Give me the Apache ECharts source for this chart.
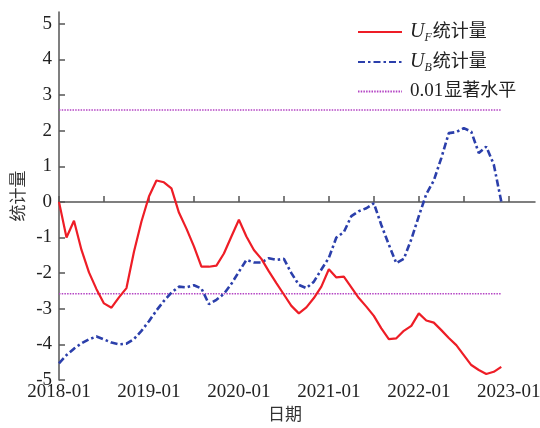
<!DOCTYPE html>
<html>
<head>
<meta charset="utf-8">
<script src="https://cdn.jsdelivr.net/npm/echarts@6/dist/echarts.min.js"></script>
<style>
  html, body { margin: 0; padding: 0; background: #fff; }
  #chart { width: 540px; height: 428px; }
</style>
</head>
<body>
<div id="chart"></div>
<script>
// Mann-Kendall sequential statistics, monthly from 2018-01 to 2022-12
const xTickLabels = ['2018-01', '2019-01', '2020-01', '2021-01', '2022-01', '2023-01'];
const yTickValues = [-5, -4, -3, -2, -1, 0, 1, 2, 3, 4, 5];

const ufValues = [
  0, -1.0, -0.53, -1.35, -1.98, -2.45, -2.85, -2.97, -2.68, -2.42, -1.4, -0.55,
  0.15, 0.6, 0.55, 0.38, -0.3, -0.75, -1.25, -1.82, -1.82, -1.79, -1.45, -0.97,
  -0.5, -0.97, -1.35, -1.6, -1.95, -2.28, -2.6, -2.92, -3.13, -2.96, -2.7, -2.38,
  -1.89, -2.12, -2.1, -2.4, -2.7, -2.94, -3.2, -3.55, -3.85, -3.83, -3.62, -3.48,
  -3.13, -3.33, -3.39, -3.6, -3.82, -4.02, -4.3, -4.58, -4.72, -4.83, -4.77, -4.63
];
const ubValues = [
  -4.53, -4.3, -4.12, -3.97, -3.86, -3.78, -3.86, -3.95, -4.0, -3.98, -3.85, -3.62,
  -3.35, -3.05, -2.78, -2.55, -2.38, -2.4, -2.34, -2.43, -2.87, -2.75, -2.58, -2.3,
  -1.96, -1.63, -1.7, -1.7, -1.58, -1.63, -1.6, -2.0, -2.33, -2.42, -2.24, -1.9,
  -1.57, -1.0, -0.85, -0.4, -0.26, -0.18, -0.04, -0.65, -1.2, -1.72, -1.6, -1.05,
  -0.4, 0.22, 0.6, 1.23, 1.93, 1.96, 2.07, 1.97, 1.37, 1.55, 1.05, 0.01
];
const criticalValue = 2.58;

const serif = '"Liberation Serif", "Times New Roman", "Noto Sans CJK SC", serif';
const toPoints = arr => arr.map((v, i) => [i, v]);
const lastMonth = ufValues.length - 1;

const xTicks = [];
for (let m = 0; m <= 60; m += 6) xTicks.push(m);
const xLabels = xTickLabels.map((_, i) => i * 12);

const chart = echarts.init(document.getElementById('chart'), null, { renderer: 'canvas' });

const legendRich = {
  u: { fontFamily: serif, fontStyle: 'italic', fontSize: 20, color: '#222', verticalAlign: 'middle', lineHeight: 24 },
  s: { fontFamily: serif, fontStyle: 'italic', fontSize: 12, color: '#222', verticalAlign: 'bottom', lineHeight: 24 },
  t: { fontFamily: serif, fontSize: 18, color: '#222', verticalAlign: 'middle', lineHeight: 24, padding: [0, 0, 0, 1] },
  n: { fontFamily: serif, fontSize: 19, color: '#222', verticalAlign: 'middle', lineHeight: 24 }
};

chart.setOption({
  animation: false,
  backgroundColor: '#fff',
  grid: { left: 59, right: 5, top: 12, bottom: 48, containLabel: false, outerBoundsMode: 'none' },
  legend: {
    orient: 'vertical',
    left: 352,
    top: 17,
    itemWidth: 44,
    itemHeight: 14,
    itemGap: 8,
    itemStyle: { opacity: 0 },
    textStyle: { rich: legendRich, padding: [0, 0, 0, 3] },
    formatter: function (name) {
      if (name === 'UF统计量') return '{u|U}{s|F}{t|统计量}';
      if (name === 'UB统计量') return '{u|U}{s|B}{t|统计量}';
      return '{n|0.01}{t|显著水平}';
    },
    data: ['UF统计量', 'UB统计量', '0.01显著水平']
  },
  xAxis: {
    type: 'value',
    min: 0,
    max: 63.5,
    name: '日期',
    nameLocation: 'middle',
    nameGap: 27,
    nameMoveOverlap: false,
    nameTextStyle: { fontFamily: serif, fontSize: 17, color: '#333', padding: [0, 24, 0, 0] },
    axisLine: { show: true, lineStyle: { color: '#555', width: 1.5 } },
    axisTick: { show: true, inside: true, length: 6, customValues: xTicks, lineStyle: { color: '#555', width: 1.5 } },
    axisLabel: {
      customValues: xLabels,
      margin: 3,
      fontFamily: serif,
      fontSize: 19,
      color: '#222',
      formatter: v => xTickLabels[Math.round(v / 12)] || ''
    },
    splitLine: { show: false }
  },
  yAxis: {
    type: 'value',
    min: -5,
    max: 5.33,
    name: '统计量',
    nameLocation: 'middle',
    nameGap: 31,
    nameMoveOverlap: false,
    nameTextStyle: { fontFamily: serif, fontSize: 17, color: '#333' },
    axisLine: { show: true, lineStyle: { color: '#555', width: 1.5 } },
    axisTick: { show: true, inside: true, length: 6, customValues: yTickValues, lineStyle: { color: '#555', width: 1.5 } },
    axisLabel: { customValues: yTickValues, margin: 7, fontFamily: serif, fontSize: 19, color: '#222' },
    splitLine: { show: false }
  },
  series: [
    {
      name: '0.01显著水平',
      type: 'line',
      symbol: 'none',
      data: [[0, criticalValue], [lastMonth, criticalValue]],
      lineStyle: { color: '#b444c4', width: 1.6, type: [1.5, 1.2] },
      itemStyle: { color: '#b444c4' },
      z: 1
    },
    {
      name: '0.01显著水平',
      type: 'line',
      symbol: 'none',
      data: [[0, -criticalValue], [lastMonth, -criticalValue]],
      lineStyle: { color: '#b444c4', width: 1.6, type: [1.5, 1.2] },
      itemStyle: { color: '#b444c4' },
      z: 1
    },
    {
      name: 'UF统计量',
      type: 'line',
      symbol: 'none',
      data: toPoints(ufValues),
      lineStyle: { color: '#ee1d26', width: 2.2 },
      itemStyle: { color: '#ee1d26' },
      z: 3
    },
    {
      name: 'UB统计量',
      type: 'line',
      symbol: 'none',
      data: toPoints(ubValues),
      lineStyle: { color: '#2b3fab', width: 2.6, type: [7, 3, 2.5, 3] },
      itemStyle: { color: '#2b3fab' },
      z: 2
    }
  ]
});
</script>
</body>
</html>
